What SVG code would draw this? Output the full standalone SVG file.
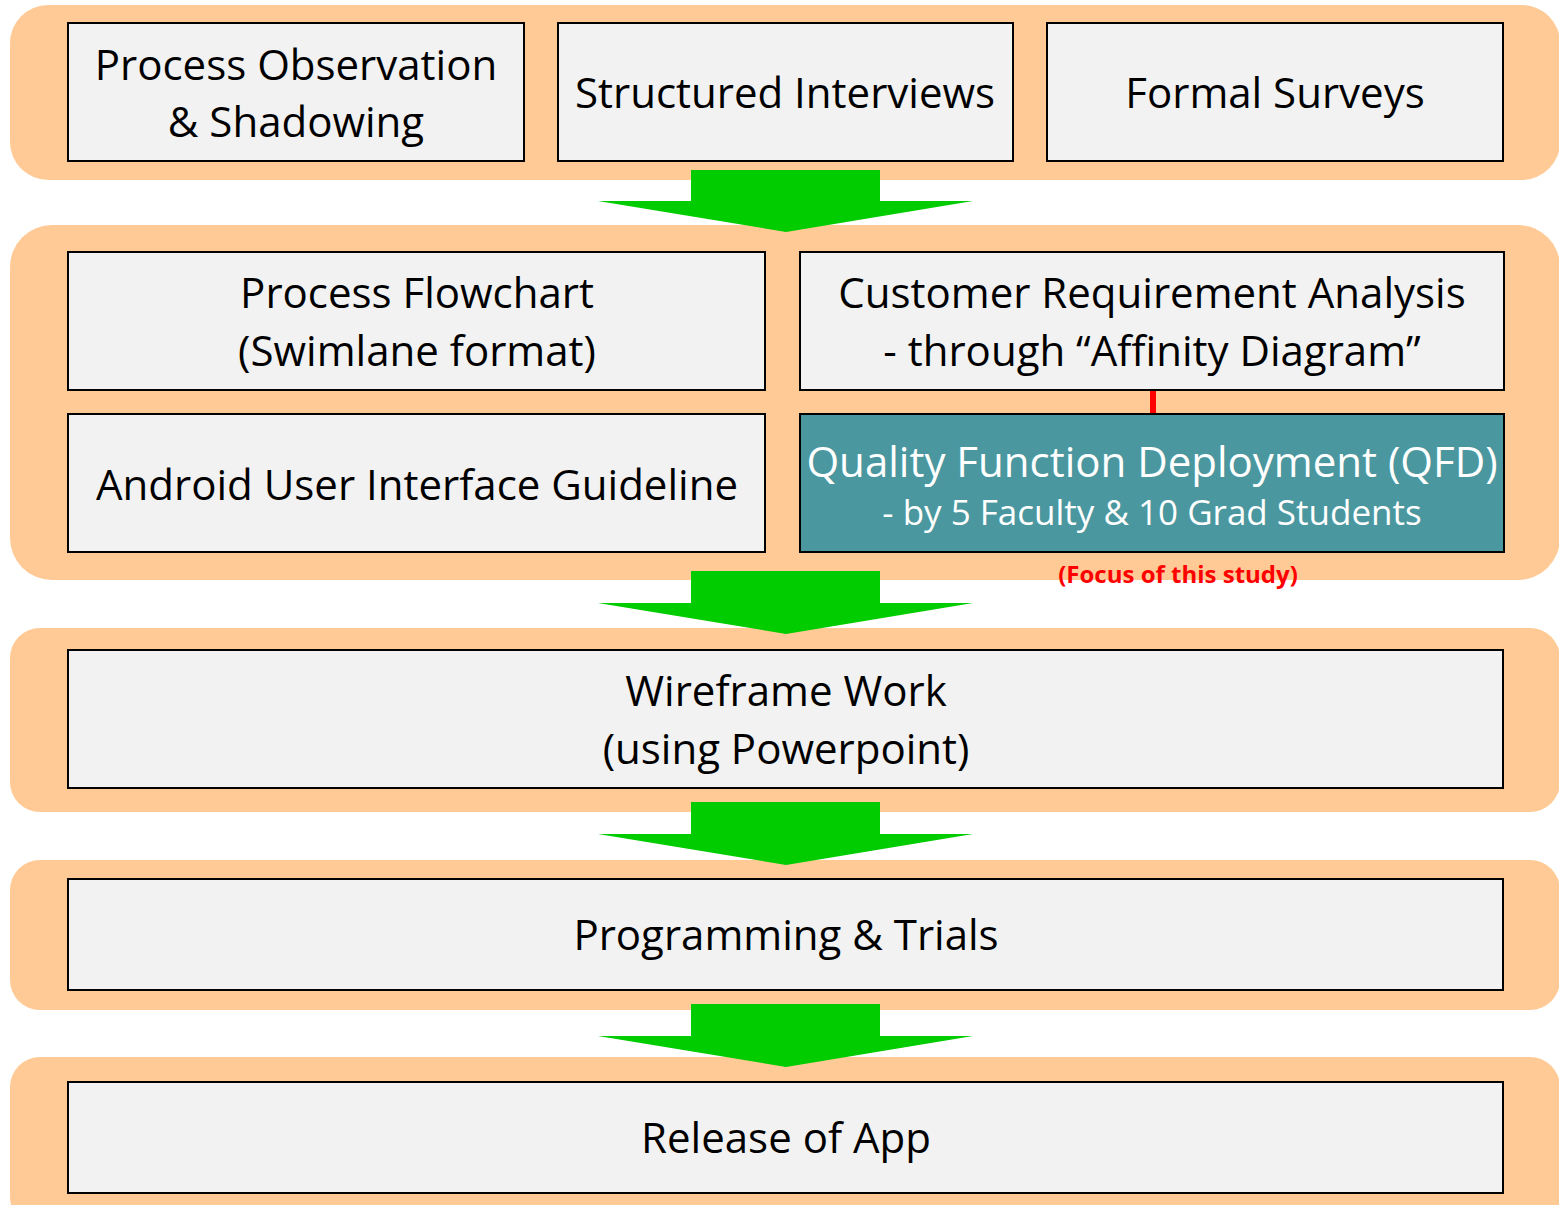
<svg xmlns="http://www.w3.org/2000/svg" width="1559" height="1205" viewBox="0 0 1559 1205">
  <style>
    .band { fill: #FFCA96; }
    .box { fill: #F2F2F2; stroke: #000; stroke-width: 2; }
    .qfd { fill: #4A979F; stroke: #000; stroke-width: 2; }
    .arrow { fill: #00CC00; }
    text { font-family: "Open Sans", "Liberation Sans", sans-serif; text-anchor: middle; }
    .t { font-size: 42px; fill: #000; }
    .tw { font-size: 42px; fill: #fff; }
    .tws { font-size: 35px; fill: #fff; }
    .focus { font-size: 24px; font-weight: bold; fill: #FF0000; }
  </style>
  <rect width="1559" height="1205" fill="#fff"/>

  <!-- stage bands -->
  <g id="bands">
    <rect class="band" x="10" y="5" width="1550" height="175" rx="38"/>
    <rect class="band" x="10" y="225" width="1550" height="355" rx="42"/>
    <rect class="band" x="10" y="628" width="1550" height="184" rx="30"/>
    <rect class="band" x="10" y="860" width="1550" height="150" rx="30"/>
    <rect class="band" x="10" y="1057" width="1550" height="170" rx="30"/>
  </g>

  <!-- connectors -->
  <g id="connectors">
    <polygon class="arrow" points="691,170 880,170 880,201 973,201 786,232 598,201 691,201"/>
    <polygon class="arrow" points="691,571 880,571 880,603 973,603 786,634 598,603 691,603"/>
    <polygon class="arrow" points="691,802 880,802 880,834 973,834 786,865 598,834 691,834"/>
    <polygon class="arrow" points="691,1004 880,1004 880,1036 973,1036 786,1067 598,1036 691,1036"/>
    <rect x="1150" y="390" width="6" height="24" fill="#FF0000"/>
  </g>

  <g id="n-observation">
    <rect class="box" x="68" y="23" width="456" height="138"/>
    <text class="t" x="296" y="80">Process Observation</text>
    <text class="t" x="296" y="137">&amp; Shadowing</text>
  </g>
  <g id="n-interviews">
    <rect class="box" x="558" y="23" width="455" height="138"/>
    <text class="t" x="785" y="108">Structured Interviews</text>
  </g>
  <g id="n-surveys">
    <rect class="box" x="1047" y="23" width="456" height="138"/>
    <text class="t" x="1275" y="108">Formal Surveys</text>
  </g>

  <g id="n-flowchart">
    <rect class="box" x="68" y="252" width="697" height="138"/>
    <text class="t" x="417" y="308">Process Flowchart</text>
    <text class="t" x="417" y="366">(Swimlane format)</text>
  </g>
  <g id="n-requirements">
    <rect class="box" x="800" y="252" width="704" height="138"/>
    <text class="t" x="1152" y="308">Customer Requirement Analysis</text>
    <text class="t" x="1152" y="366">- through “Affinity Diagram”</text>
  </g>
  <g id="n-android">
    <rect class="box" x="68" y="414" width="697" height="138"/>
    <text class="t" x="417" y="500">Android User Interface Guideline</text>
  </g>
  <g id="n-qfd">
    <rect class="qfd" x="800" y="414" width="704" height="138"/>
    <text class="tw" x="1152" y="477">Quality Function Deployment (QFD)</text>
    <text class="tws" x="1152" y="525">- by 5 Faculty &amp; 10 Grad Students</text>
    <text class="focus" x="1178" y="583">(Focus of this study)</text>
  </g>

  <g id="n-wireframe">
    <rect class="box" x="68" y="650" width="1435" height="138"/>
    <text class="t" x="786" y="706">Wireframe Work</text>
    <text class="t" x="786" y="764">(using Powerpoint)</text>
  </g>
  <g id="n-programming">
    <rect class="box" x="68" y="879" width="1435" height="111"/>
    <text class="t" x="786" y="950">Programming &amp; Trials</text>
  </g>
  <g id="n-release">
    <rect class="box" x="68" y="1082" width="1435" height="111"/>
    <text class="t" x="786" y="1153">Release of App</text>
  </g>
</svg>
